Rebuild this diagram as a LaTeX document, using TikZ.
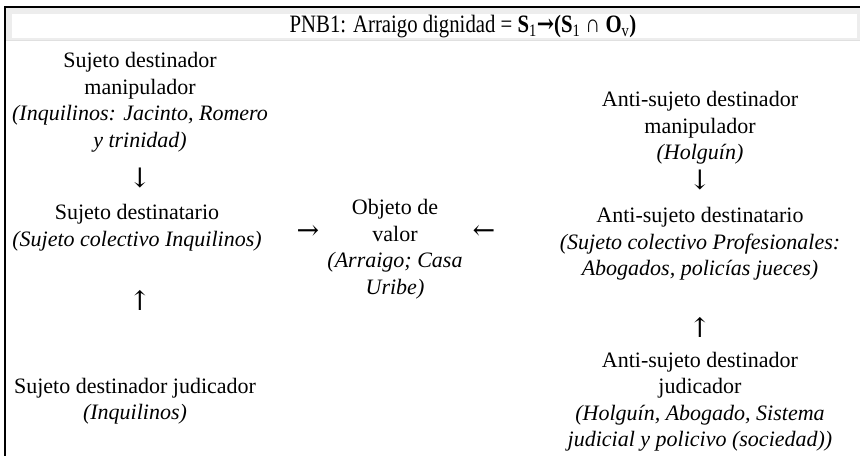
\documentclass[tikz,border=0pt]{standalone}
\usepackage{fontspec}
\usepackage{graphicx}
\setmainfont{Liberation Serif}
\newfontfamily\arrfont{DejaVu Serif}
\begin{document}
\begin{tikzpicture}[x=1pt,y=-1pt,
  txt/.style={align=center,inner sep=0pt,font=\fontsize{22}{26.5}\selectfont},
  arr/.style={inner sep=0pt,font=\arrfont\fontsize{27}{30}\selectfont}]
\useasboundingbox (0,0) rectangle (860,457);
% header band
\fill[black!7] (5,8) rectangle (860,40);
\fill[white] (12,14) rectangle (857,38);
\draw[black!12,line width=0.8pt] (5,40.5) -- (860,40.5);
% frame lines
\draw[line width=1.6pt] (4,7) -- (860,7);
\draw[line width=1.6pt] (4.8,6.2) -- (4.8,456);
% header text
\node[inner sep=0pt] (head) at (463,27) {\scalebox{0.83}[1]{\fontsize{25}{28}\selectfont PNB1: Arraigo dignidad = \textbf{S}\textsubscript{1}{\arrfont\bfseries →}\textbf{(S}\textsubscript{1} \textbf{∩ O}\textsubscript{v}\textbf{)}}};
% left column
\node[txt] (l1) at (140,102) {Sujeto destinador\\manipulador\\\textit{(Inquilinos: Jacinto, Romero}\\\textit{y trinidad)}};
\node[arr] (a1) at (140,178) {↓};
\node[txt] (l2) at (137,227.5) {Sujeto destinatario\\\textit{(Sujeto colectivo Inquilinos)}};
\node[arr] (a2) at (140,300) {↑};
\node[txt] (l3) at (135,401) {Sujeto destinador judicador\\\textit{(Inquilinos)}};
% center
\node[arr] (a3) at (308,232) {→};
\node[txt] (c1) at (395,249) {Objeto de\\valor\\\textit{(Arraigo; Casa}\\\textit{Uribe)}};
\node[arr] (a4) at (484,232) {←};
% right column
\node[txt] (r1) at (700,128) {Anti-sujeto destinador\\manipulador\\\textit{(Holguín)}};
\node[arr] (a5) at (700,180) {↓};
\node[txt] (r2) at (700,244) {Anti-sujeto destinatario\\\textit{(Sujeto colectivo Profesionales:}\\\textit{Abogados, policías jueces)}};
\node[arr] (a6) at (700,327) {↑};
\node[txt] (r3) at (700,401.5) {Anti-sujeto destinador\\judicador\\\textit{(Holguín, Abogado, Sistema}\\\textit{judicial y policivo (sociedad))}};
\end{tikzpicture}
\end{document}
